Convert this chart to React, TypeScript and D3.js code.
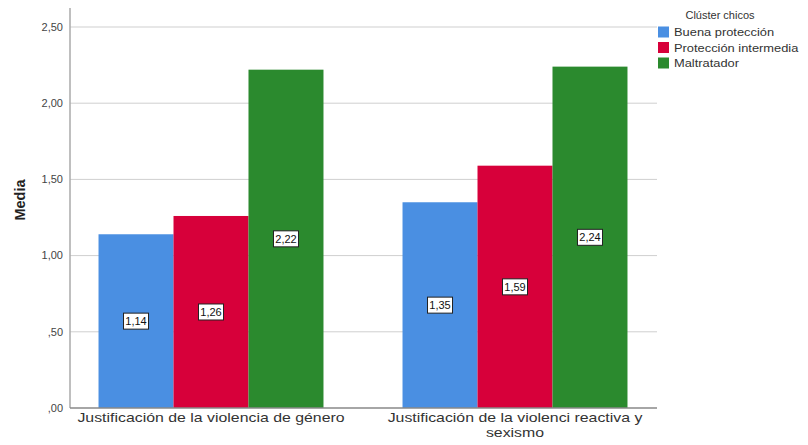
import * as React from "react";
import * as d3 from "d3";

const { useRef, useEffect } = React;

// data
const categories = [
  ["Justificación de la violencia de género"],
  ["Justificación de la violenci reactiva y", "sexismo"],
];
const seriesNames = ["Buena protección", "Protección intermedia", "Maltratador"];
const seriesColors = ["#4a8fe2", "#d7003a", "#2b8a2e"];
const buenaProteccion = [1.14, 1.35];
const proteccionIntermedia = [1.26, 1.59];
const maltratador = [2.22, 2.24];
const yTicks = [0, 0.5, 1, 1.5, 2, 2.5];

const W = 808, H = 445;
const font = "'Liberation Sans', Arial, sans-serif";

const fmt = (v: number) => {
  const s = v.toFixed(2).replace(".", ",");
  return s.startsWith("0") ? s.slice(1) : s;
};

export default function App() {
  const svgRef = useRef(null);

  useEffect(() => {
    const svg = d3.select(svgRef.current);
    svg.selectAll("*").remove();

    const left = 70, right = 657, top = 8, bottom = 408;
    const values = [buenaProteccion, proteccionIntermedia, maltratador];
    const catKeys = categories.map((c, i) => String(i));

    const y = d3.scaleLinear().domain([0, 2.5]).range([bottom, 27]);
    const x0 = d3.scaleBand().domain(catKeys).range([59, 667])
      .paddingInner(0.26).paddingOuter(0.13);
    const x1 = d3.scaleBand().domain(seriesNames).range([0, x0.bandwidth()]);

    const g = svg.append("g");

    // gridlines
    g.selectAll("line.grid")
      .data(yTicks.filter(t => t > 0))
      .enter().append("line")
        .attr("x1", left).attr("x2", right)
        .attr("y1", d => y(d)).attr("y2", d => y(d))
        .attr("stroke", "#cfcfcf").attr("stroke-width", 1);

    // tick labels
    g.selectAll("text.tick")
      .data(yTicks)
      .enter().append("text")
        .attr("x", 63)
        .attr("y", d => y(d))
        .attr("dy", "0.35em")
        .attr("text-anchor", "end")
        .attr("font-family", font)
        .attr("font-size", 11)
        .attr("fill", "#444")
        .text(d => fmt(d));

    // bars
    categories.forEach((c, ci) => {
      seriesNames.forEach((s, si) => {
        const v = values[si][ci];
        const bx = x0(String(ci))! + x1(s)!;
        const bw = x1.bandwidth();
        g.append("rect")
          .attr("x", bx).attr("y", y(v))
          .attr("width", bw).attr("height", y(0) - y(v))
          .attr("fill", seriesColors[si]);

        const cx = bx + bw / 2, cy = (y(v) + y(0)) / 2;
        const lbl = g.append("g").attr("transform", `translate(${cx},${cy})`);
        lbl.append("rect")
          .attr("x", -12.5).attr("y", -8).attr("width", 25).attr("height", 16)
          .attr("fill", "#fff").attr("stroke", "#222").attr("stroke-width", 1);
        lbl.append("text")
          .attr("text-anchor", "middle").attr("dy", "0.35em")
          .attr("font-family", font).attr("font-size", 11).attr("fill", "#111")
          .text(fmt(v));
      });
    });

    // axes lines
    g.append("line")
      .attr("x1", left).attr("x2", left).attr("y1", top).attr("y2", bottom)
      .attr("stroke", "#aaa").attr("stroke-width", 1.5);
    g.append("line")
      .attr("x1", left).attr("x2", right).attr("y1", bottom).attr("y2", bottom)
      .attr("stroke", "#888").attr("stroke-width", 1.5);

    // category labels (reference text is stretched wide)
    categories.forEach((lines, ci) => {
      const cx = x0(String(ci))! + x0.bandwidth() / 2;
      lines.forEach((ln, li) => {
        g.append("text")
          .attr("transform", `translate(${cx},${422 + li * 15}) scale(1.22,1)`)
          .attr("text-anchor", "middle")
          .attr("font-family", font).attr("font-size", 13).attr("fill", "#333")
          .text(ln);
      });
    });

    // y title
    g.append("text")
      .attr("transform", `translate(25,${(top + bottom) / 2 - 8}) rotate(-90)`)
      .attr("text-anchor", "middle")
      .attr("font-family", font).attr("font-size", 14.5).attr("font-weight", "bold")
      .attr("fill", "#222")
      .text("Media");

    // legend
    const legend = g.append("g").attr("font-family", font).attr("fill", "#333");
    legend.append("text")
      .attr("x", 720).attr("y", 15).attr("dy", "0.35em").attr("text-anchor", "middle")
      .attr("font-size", 11)
      .text("Clúster chicos");
    const items = legend.selectAll("g.item")
      .data(seriesNames)
      .enter().append("g")
        .attr("transform", (d, i) => `translate(658,${32 + i * 15.5})`);
    items.append("rect")
      .attr("x", 0).attr("y", -5.5).attr("width", 11).attr("height", 11)
      .attr("fill", (d, i) => seriesColors[i]);
    items.append("text")
      .attr("transform", "translate(16,0) scale(1.12,1)")
      .attr("dy", "0.35em")
      .attr("font-size", 11.5)
      .text(d => d);
  }, []);

  return (
    <div style={{ margin: -8 }}>
      <svg ref={svgRef} width={W} height={H} style={{ display: "block", background: "#fff" }} />
    </div>
  );
}
